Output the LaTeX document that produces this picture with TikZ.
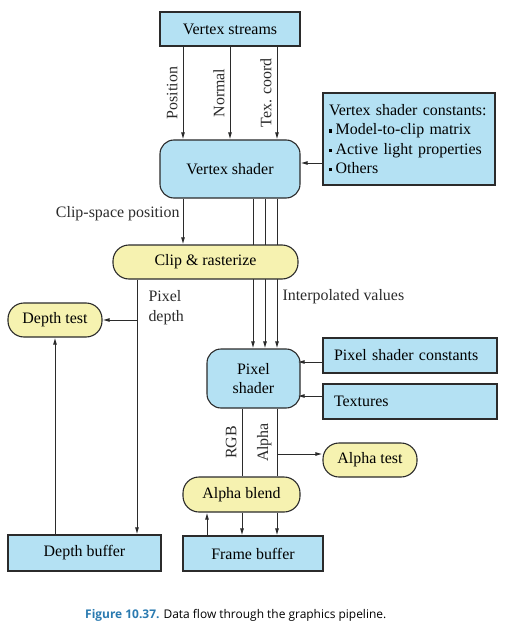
\documentclass[tikz,border=0pt]{standalone}
\usepackage{fontspec}
\setmainfont{Liberation Serif}
\newfontfamily\capfont{Open Sans}
\usepackage{xcolor}
\definecolor{boxblue}{HTML}{B4E1F3}
\definecolor{boxyellow}{HTML}{F6F2B0}
\definecolor{edge}{HTML}{2B2B2B}
\definecolor{figblue}{HTML}{2A7AB0}
\usetikzlibrary{arrows.meta}
\newcommand\sqbullet{\raisebox{0.3ex}{\rule{3.2bp}{3.2bp}}\hspace{3.5bp}}

\begin{document}
\begin{tikzpicture}[x=1bp,y=-1bp,>={Latex[length=7bp,width=4bp]},
  every node/.style={font=\fontsize{16}{19.5}\selectfont},
  flow/.style={->,edge,line width=1bp},
  wire/.style={edge,line width=1bp},
  bluebox/.style={draw=edge,fill=boxblue,line width=1.1bp,inner sep=0pt},
  shaderbox/.style={bluebox,rounded corners=14bp,align=center},
  pill/.style={draw=edge,fill=boxyellow,line width=1.1bp,inner sep=0pt,rounded corners=16bp},
  sidelabel/.style={rotate=90,anchor=south,inner sep=5bp}]
\useasboundingbox (0,0) rectangle (510,633);
\node[bluebox,minimum width=140bp,minimum height=34bp] (vs) at (230,29) {Vertex streams};
\node[shaderbox,minimum width=140bp,minimum height=58bp] (vsh) at (230,169) {Vertex shader};
\node[bluebox,text width=160bp,inner xsep=6bp,minimum height=92bp,align=left] (vsc) at (409,139) {Vertex shader constants:\\ \sqbullet Model-to-clip matrix\\ \sqbullet Active light properties\\ \sqbullet Others};
\node[shaderbox,minimum width=93bp,minimum height=59bp] (ps) at (253.5,378.5) {Pixel\\shader};
\node[bluebox,text width=152bp,inner xsep=11bp,minimum height=35bp,align=left] (psc) at (410,355.5) {Pixel shader constants};
\node[bluebox,text width=152bp,inner xsep=11bp,minimum height=35bp,align=left] (tex) at (410,401.5) {Textures};
\foreach \dx/\lab in {-47/Position,0/Normal,47/{Tex. coord}}
  \draw[flow] ([xshift=\dx bp]vs.south) -- node[midway,sidelabel]{\lab} ([xshift=\dx bp]vsh.north);
\draw[flow] ([yshift=-24bp]vsc.west) coordinate (k1) -- (k1 -| vsh.east);
\foreach \dx in {23,35}
  \draw[flow] ([xshift=\dx bp]vsh.south) -- ([xshift=\dx bp]vsh.south |- ps.north);
\draw[flow] ([xshift=47bp]vsh.south) -- node[pos=.655,anchor=west,inner sep=5bp]{Interpolated values} ([xshift=47bp]vsh.south |- ps.north);
\node[pill,minimum width=185bp,minimum height=34bp] (clip) at (205.5,262) {Clip \& rasterize};
\node[pill,minimum width=94bp,minimum height=34bp] (dt) at (55,320) {Depth test};
\node[pill,minimum width=94bp,minimum height=34bp] (at) at (370,460) {Alpha test};
\node[pill,minimum width=117bp,minimum height=35bp] (ab) at (241.5,494.5) {Alpha blend};
\node[bluebox,minimum width=140bp,minimum height=35bp] (fb) at (253,553.5) {Frame buffer};
\node[bluebox,minimum width=153bp,minimum height=36bp] (db) at (84.5,553) {Depth buffer};
\draw[flow] ([xshift=-47bp]vsh.south) coordinate (k2) -- node[pos=.34,anchor=east,inner sep=3bp]{Clip-space position} (k2 |- clip.north);
\draw[flow] ([xshift=-68.5bp]clip.south) coordinate (pd) -- node[pos=.11,anchor=west,align=left,inner sep=0pt,xshift=11bp]{Pixel\\depth} (pd |- db.north);
\draw[flow] (pd |- dt.east) -- (dt.east);
\draw[flow] (dt.south |- db.north) -- (dt.south);
\draw[flow] ([yshift=-6.5bp]psc.west) coordinate (k3) -- ([xshift=-3bp]k3 -| ps.east);
\draw[flow] ([yshift=5.5bp]tex.west) coordinate (k4) -- ([xshift=-3bp]k4 -| ps.east);
\draw[wire] ([xshift=-11.5bp]ps.south) coordinate (rgb) -- node[midway,sidelabel]{RGB} (rgb |- ab.north);
\draw[wire] ([xshift=23.5bp]ps.south) coordinate (alp) -- node[midway,sidelabel]{Alpha} (alp |- ab.north);
\draw[flow] ([yshift=6bp]at.west -| alp) -- ([yshift=6bp]at.west);
\draw[flow] (rgb |- ab.south) -- (rgb |- fb.north);
\draw[flow] (alp |- ab.south) -- (alp |- fb.north);
\draw[flow] ([xshift=-34.5bp]ab.south |- fb.north) coordinate (k5) -- (k5 |- ab.south);
\node[font=\capfont\fontsize{12}{14}\selectfont,anchor=west,inner sep=0pt] (cap) at (85,615) {\textcolor{figblue}{\bfseries Figure 10.37.} Data flow through the graphics pipeline.};
\end{tikzpicture}
\end{document}
